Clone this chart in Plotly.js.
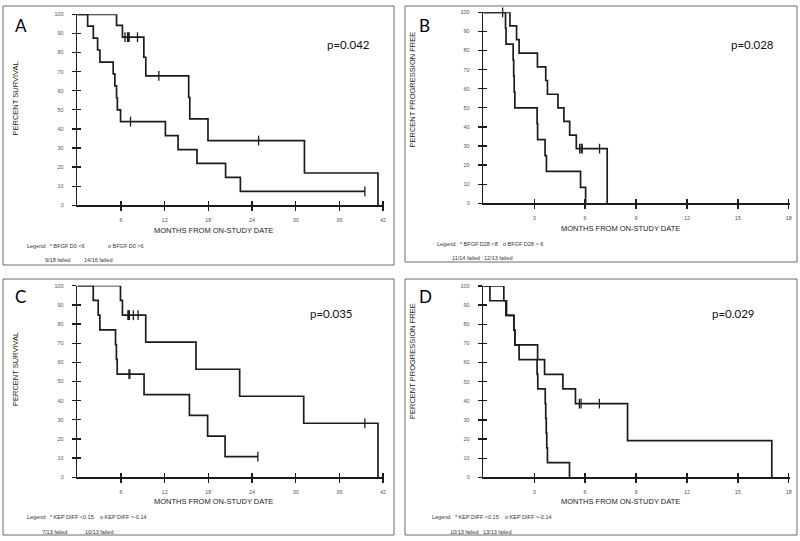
<!DOCTYPE html>
<html><head><meta charset="utf-8">
<script src="https://cdn.plot.ly/plotly-3.0.1.min.js"></script>
<style>html,body{margin:0;padding:0;background:#fff}#chart{width:800px;height:541px}</style>
</head><body><div id="chart"></div>
<script>
// ---------- DATA ----------
// Panel A : overall survival, months
const A_lt6_t = [0, 5.39, 6.2, 9.14, 9.41, 15.3, 15.45, 17.95, 31.2, 41.3];
const A_lt6_s = [100, 94.2, 88.0, 77.5, 67.8, 56.5, 45.2, 33.9, 16.9, 0];
const A_lt6_cens = [6.55, 6.9, 7.0, 7.12, 8.27, 11.2, 24.9];
const A_gt6_t = [0, 1.42, 2.2, 2.79, 3.11, 4.93, 5.16, 5.39, 5.5, 5.94, 12.1, 13.84, 16.44, 20.37, 22.4];
const A_gt6_s = [100, 93.8, 87.5, 81.3, 75.0, 68.8, 62.5, 56.3, 50.0, 43.8, 36.5, 29.2, 21.9, 14.6, 7.3];
const A_gt6_cens = [7.31, 39.5];
// Panel B : progression free, months
const B_lt8_t = [0, 1.57, 1.96, 2.11, 3.19, 3.68, 3.78, 4.4, 4.75, 5.09, 5.48, 7.3];
const B_lt8_s = [100, 92.9, 85.7, 78.6, 71.4, 64.3, 57.1, 50.0, 42.9, 35.7, 28.6, 0];
const B_lt8_cens = [5.68, 5.77, 5.83, 6.85];
const B_gt6_t = [0, 1.31, 1.34, 1.76, 1.79, 1.82, 1.86, 3.17, 3.2, 3.64, 3.72, 5.73, 6.03];
const B_gt6_s = [100, 91.7, 83.3, 75.0, 66.7, 58.3, 50.0, 41.7, 33.3, 25.0, 16.7, 8.3, 0];
const B_gt6_cens = [1.14];
// Panel C : overall survival, months
const C_lt_t = [0, 5.93, 6.2, 9.4, 16.3, 22.3, 31.1, 41.3];
const C_lt_s = [100, 92.3, 84.6, 70.5, 56.4, 42.3, 28.2, 0];
const C_lt_cens = [6.95, 7.05, 7.15, 7.7, 8.35, 39.5];
const C_ge_t = [0, 2.19, 2.87, 3.1, 5.25, 5.37, 5.48, 9.17, 15.4, 17.9, 20.3];
const C_ge_s = [100, 92.3, 84.6, 76.9, 69.2, 61.5, 53.8, 43.1, 32.3, 21.5, 10.8];
const C_ge_cens = [7.1, 7.22, 24.8];
// Panel D : progression free, months
const D_lt_t = [0, 0.39, 1.33, 1.8, 1.86, 3.2, 3.61, 4.69, 5.43, 8.5, 17.0];
const D_lt_s = [100, 92.3, 84.6, 76.9, 69.2, 61.5, 53.8, 46.2, 38.5, 19.2, 0];
const D_lt_cens = [5.66, 5.76, 6.84];
const D_ge_t = [0, 1.21, 1.37, 1.8, 1.86, 2.11, 3.17, 3.21, 3.65, 3.68, 3.71, 3.74, 3.78, 5.08];
const D_ge_s = [100, 92.3, 84.6, 76.9, 69.2, 61.5, 53.8, 46.2, 38.5, 30.8, 23.1, 15.4, 7.7, 0];
const D_ge_cens = [];

// tick labels / texts
const xTicksLong = [6, 12, 18, 24, 30, 36, 42];
const xTicksShort = [3, 6, 9, 12, 15, 18];
const yTicks = [0, 10, 20, 30, 40, 50, 60, 70, 80, 90, 100];
const xTitle = 'MONTHS FROM ON-STUDY DATE';
const yTitleOS = 'PERCENT SURVIVAL';
const yTitlePFS = 'PERCENT PROGRESSION FREE';
const panelLetters = ['A', 'B', 'C', 'D'];
const pValues = ['p=0.042', 'p=0.028', 'p=0.035', 'p=0.029'];
const legendA = ['Legend:  * BFGF D0 <6', 'o BFGF D0 >6'];
const legendB = ['Legend:  * BFGF D28 <8', 'o BFGF D28 > 6'];
const legendC = ['Legend:  * KEP DIFF <0.15', 'o KEP DIFF >-0.14'];
const legendD = ['Legend:  * KEP DIFF <0.15', 'o KEP DIFF >-0.14'];
const failedA = ['9/18 failed', '14/16 failed'];
const failedB = ['11/14 failed', '12/13 failed'];
const failedC = ['7/13 failed', '10/13 failed'];
const failedD = ['10/13 failed', '13/13 failed'];

// ---------- LAYOUT HELPERS ----------
const W = 800, H = 541;
const fx = x => x / W, fy = y => 1 - y / H;
const INK = '#1c1c1c';
const AX_FONT = 'Liberation Sans, Arial, sans-serif';
const CAL_FONT = 'Lato, Open Sans, sans-serif';

const panels = [
  {curves: [[A_lt6_t, A_lt6_s, A_lt6_cens], [A_gt6_t, A_gt6_s, A_gt6_cens]], xmax: 42, xt: xTicksLong,
   px: [77.3, 384.3], py: [14.3, 205.3], frame: [3, 6, 394, 265], ytitle: yTitleOS,
   xtPos: [213, 230], ytPos: [15, 98.5],
   letter: [13, 26], pval: [348, 44], leg: legendA, legPos: [[25, 106], 245.5], fail: failedA, failPos: [[43, 82], 260]},
  {curves: [[B_lt8_t, B_lt8_s, B_lt8_cens], [B_gt6_t, B_gt6_s, B_gt6_cens]], xmax: 18, xt: xTicksShort,
   px: [483.3, 790], py: [12.3, 203.3], frame: [405, 6, 797, 262], ytitle: yTitlePFS,
   xtPos: [620, 228], ytPos: [412, 89.5],
   letter: [417, 26], pval: [752, 45], leg: legendB, legPos: [[435, 501], 243.5], fail: failedB, failPos: [[450, 482], 257.7]},
  {curves: [[C_lt_t, C_lt_s, C_lt_cens], [C_ge_t, C_ge_s, C_ge_cens]], xmax: 42, xt: xTicksLong,
   px: [77.3, 384.3], py: [285.7, 477.3], frame: [3, 279, 394, 535], ytitle: yTitleOS,
   xtPos: [213, 501], ytPos: [15, 369],
   letter: [13, 296], pval: [331, 313], leg: legendC, legPos: [[25, 98], 516.7], fail: failedC, failPos: [[40, 83], 531.5]},
  {curves: [[D_lt_t, D_lt_s, D_lt_cens], [D_ge_t, D_ge_s, D_ge_cens]], xmax: 18, xt: xTicksShort,
   px: [483.3, 790], py: [286, 477.3], frame: [405, 279, 797, 535], ytitle: yTitlePFS,
   xtPos: [620, 501], ytPos: [412, 361],
   letter: [417, 296], pval: [733, 313], leg: legendD, legPos: [[430, 503], 516.7], fail: failedD, failPos: [[448, 481], 531.5]}
];

function survAt(t, s, x) {
  let v = s[0];
  for (let i = 0; i < t.length; i++) { if (t[i] <= x) v = s[i]; }
  return v;
}

const traces = [];
const layout = {
  width: W, height: H, margin: {l: 0, r: 0, t: 0, b: 0},
  paper_bgcolor: '#fff', plot_bgcolor: 'rgba(0,0,0,0)', showlegend: false,
  shapes: [], annotations: []
};

panels.forEach((p, i) => {
  const n = i + 1, o = i + 5;
  const xa = n === 1 ? 'x' : 'x' + n, ya = n === 1 ? 'y' : 'y' + n;
  const xk = n === 1 ? 'xaxis' : 'xaxis' + n, yk = n === 1 ? 'yaxis' : 'yaxis' + n;
  const xdom = [fx(p.px[0]), fx(p.px[1])], ydom = [fy(p.py[1]), fy(p.py[0])];
  const common = {showgrid: false, zeroline: false, fixedrange: true};
  layout[xk] = Object.assign({}, common, {
    domain: xdom, anchor: ya, range: [0, p.xmax * 1.004], tickmode: 'array', tickvals: p.xt,
    ticks: 'outside', ticklen: 4, tickwidth: 1.3, tickcolor: INK, showline: true, linecolor: INK, linewidth: 1.5,
    tickfont: {family: AX_FONT, size: 5.5, color: '#555'}, ticklabelstandoff: 5
  });
  layout[yk] = Object.assign({}, common, {
    domain: ydom, anchor: xa, range: [0, 100], tickmode: 'array', tickvals: yTicks,
    ticks: 'outside', ticklen: 4, tickwidth: 1.3, tickcolor: INK, showline: true, linecolor: INK, linewidth: 1.5,
    tickfont: {family: AX_FONT, size: 5.5, color: '#555'}, ticklabelstandoff: 7
  });
  // overlay axes giving the inner half of crossing ticks
  layout['xaxis' + o] = Object.assign({}, common, {
    overlaying: xa, anchor: ya, range: [0, p.xmax * 1.004], tickmode: 'array', tickvals: p.xt,
    ticks: 'inside', ticklen: 4, tickwidth: 1.3, tickcolor: INK, showticklabels: false, showline: false
  });
  layout['yaxis' + o] = Object.assign({}, common, {
    overlaying: ya, anchor: xa, range: [0, 100], tickmode: 'array', tickvals: yTicks.slice(1, 10),
    ticks: 'inside', ticklen: 4, tickwidth: 1.3, tickcolor: INK, showticklabels: false, showline: false
  });
  traces.push({x: [], y: [], xaxis: 'x' + o, yaxis: 'y' + o, mode: 'lines', hoverinfo: 'skip'});

  p.curves.forEach(([t, s, c]) => {
    const xs = t.slice(), ys = s.slice();
    const lastC = c.length ? Math.max(...c) : -1;
    if (lastC > xs[xs.length - 1]) { xs.push(lastC); ys.push(ys[ys.length - 1]); }
    traces.push({x: xs, y: ys, xaxis: xa, yaxis: ya, mode: 'lines', cliponaxis: false,
      line: {shape: 'hv', color: INK, width: 1.7}, hoverinfo: 'skip'});
    if (c.length) {
      traces.push({x: c, y: c.map(v => survAt(t, s, v)), xaxis: xa, yaxis: ya, mode: 'markers', cliponaxis: false,
        marker: {symbol: 'line-ns', size: 7, line: {width: 1.3, color: INK}}, hoverinfo: 'skip'});
    }
  });

  const f = p.frame;
  layout.shapes.push({type: 'rect', xref: 'paper', yref: 'paper', x0: fx(f[0]), x1: fx(f[2]), y0: fy(f[3]), y1: fy(f[1]),
    line: {color: '#6a6a6a', width: 1}, fillcolor: 'rgba(0,0,0,0)'});

  const ann = (text, x, y, size, fam, anchor, color, angle) => layout.annotations.push({
    text, x: fx(x), y: fy(y), xref: 'paper', yref: 'paper', showarrow: false, textangle: angle || 0,
    xanchor: anchor || 'left', yanchor: 'middle', font: {family: fam, size, color: color || '#111'}
  });
  ann(xTitle, p.xtPos[0], p.xtPos[1], 7.5, AX_FONT, 'center', '#222');
  ann(p.ytitle, p.ytPos[0], p.ytPos[1], 7.5, AX_FONT, 'center', '#222', -90);
  ann(panelLetters[i], p.letter[0], p.letter[1], 17, CAL_FONT, 'left', '#000');
  ann(pValues[i], p.pval[0], p.pval[1], 11.5, CAL_FONT, 'center', '#111');
  ann(p.leg[0], p.legPos[0][0], p.legPos[1], 5.5, AX_FONT, 'left', '#333');
  ann(p.leg[1], p.legPos[0][1], p.legPos[1], 5.5, AX_FONT, 'left', '#333');
  ann(p.fail[0], p.failPos[0][0], p.failPos[1], 5.5, AX_FONT, 'left', '#333');
  ann(p.fail[1], p.failPos[0][1], p.failPos[1], 5.5, AX_FONT, 'left', '#333');
});

Plotly.newPlot('chart', traces, layout, {staticPlot: true, displayModeBar: false});
</script></body></html>
